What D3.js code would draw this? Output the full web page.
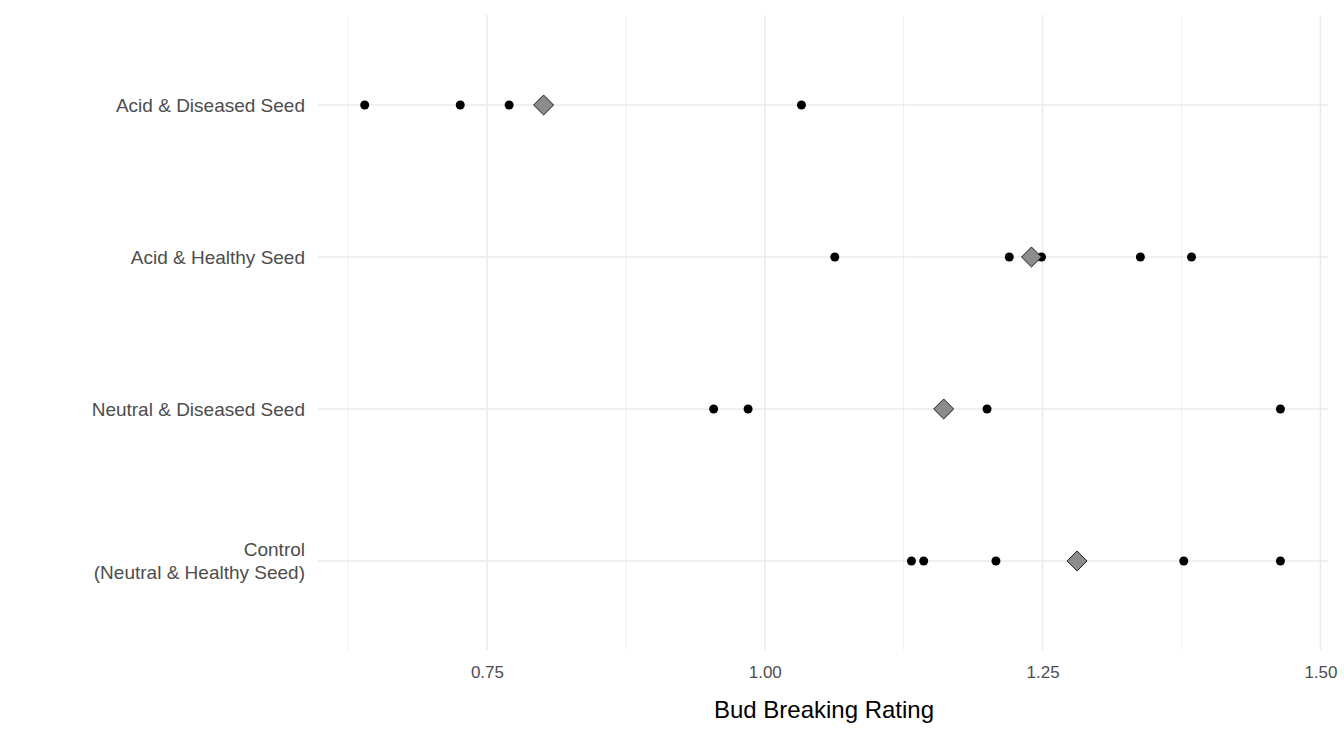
<!DOCTYPE html>
<html><head><meta charset="utf-8">
<script src="https://cdn.jsdelivr.net/npm/d3@7"></script>
<style>body{margin:0;background:#fff;font-family:Arial,"Liberation Sans",sans-serif}</style>
</head><body><div id="chart"></div>
<script>
// groups, top to bottom
const categories = ["Acid & Diseased Seed", "Acid & Healthy Seed", "Neutral & Diseased Seed", "Control\n(Neutral & Healthy Seed)"];
const pointValues = [
  [0.640, 0.726, 0.770, 1.033],
  [1.063, 1.220, 1.249, 1.338, 1.384],
  [0.954, 0.985, 1.200, 1.464],
  [1.132, 1.143, 1.208, 1.377, 1.464]
];
const meanValues = [0.801, 1.240, 1.161, 1.281];
const xTicks = [0.75, 1.00, 1.25, 1.50];
const xMinor = [0.625, 0.875, 1.125, 1.375];

const width = 1344, height = 739;
const margin = {top: 15, right: 16, bottom: 89, left: 318};

const svg = d3.select("#chart").append("svg").attr("width", width).attr("height", height);

const x = d3.scaleLinear().domain([0.598, 1.505]).range([margin.left, width - margin.right - 2]);
const y = d3.scalePoint().domain(categories).range([105, 561]);

// grid
svg.selectAll(".minor").data(xMinor).enter().append("line")
  .attr("x1", d => x(d)).attr("x2", d => x(d))
  .attr("y1", margin.top).attr("y2", height - margin.bottom)
  .attr("stroke", "#ebebeb").attr("stroke-width", 0.8);
svg.selectAll(".major").data(xTicks).enter().append("line")
  .attr("x1", d => x(d)).attr("x2", d => x(d))
  .attr("y1", margin.top).attr("y2", height - margin.bottom)
  .attr("stroke", "#ebebeb").attr("stroke-width", 1.6);
svg.selectAll(".hgrid").data(categories).enter().append("line")
  .attr("x1", margin.left).attr("x2", width - margin.right)
  .attr("y1", d => y(d)).attr("y2", d => y(d))
  .attr("stroke", "#ebebeb").attr("stroke-width", 1.6);

// axes
const xa = svg.append("g").attr("transform", `translate(0,${height - margin.bottom})`)
  .call(d3.axisBottom(x).tickValues(xTicks).tickFormat(d3.format(".2f")).tickSize(0).tickPadding(16));
xa.select(".domain").remove();
xa.selectAll("text").style("font-size", "17px").style("fill", "#4d4d4d").style("font-family", "Arial,'Liberation Sans',sans-serif");

const ya = svg.append("g").attr("transform", `translate(${margin.left},0)`)
  .call(d3.axisLeft(y).tickSize(0).tickPadding(13).tickFormat(""));
ya.select(".domain").remove();
ya.selectAll(".tick").each(function(d) {
  const lines = d.split("\n");
  const t = d3.select(this).select("text").text(null)
    .style("font-size", "19px").style("fill", "#4d4d4d").style("font-family", "Arial,'Liberation Sans',sans-serif");
  lines.forEach((l, i) => {
    t.append("tspan").attr("x", -13)
      .attr("dy", i === 0 ? `${0.32 - (lines.length - 1) * 0.6}em` : "1.2em").text(l);
  });
});

svg.append("text").attr("x", (margin.left + width - margin.right) / 2 + 1).attr("y", 718)
  .attr("text-anchor", "middle").style("font-size", "24px").style("fill", "#000").text("Bud Breaking Rating");

// points
categories.forEach((c, i) => {
  svg.selectAll(null).data(pointValues[i]).enter().append("circle")
    .attr("cx", d => x(d)).attr("cy", y(c)).attr("r", 4.5).attr("fill", "#000");
});
svg.selectAll(".mean").data(meanValues).enter().append("path")
  .attr("d", d3.symbol().type(d3.symbolSquare).size(200))
  .attr("transform", (d, i) => `translate(${x(d)},${y(categories[i])}) rotate(45)`)
  .attr("fill", "#8c8c8c").attr("stroke", "#000").attr("stroke-width", 0.8);
</script></body></html>
